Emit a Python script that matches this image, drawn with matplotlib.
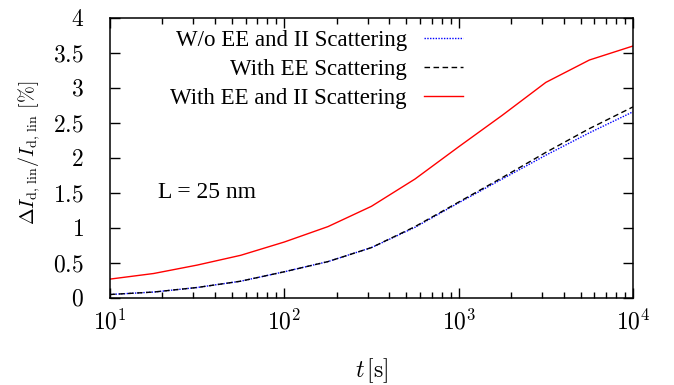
import numpy as np
import matplotlib
matplotlib.use("Agg")
import matplotlib.pyplot as plt
from matplotlib.ticker import FixedLocator, FuncFormatter, LogLocator, NullLocator

plt.rcParams["mathtext.fontset"] = "cm"
plt.rcParams["font.family"] = "Liberation Serif"

# time points (quarter decades) and curves
t = [10, 17.8, 31.6, 56.2, 100, 178, 316, 562, 1000, 1778, 3162, 5623, 10000]
wo_ee_ii = [0.05, 0.085, 0.15, 0.24, 0.375, 0.52, 0.72, 1.01, 1.36, 1.70, 2.04, 2.36, 2.66]
with_ee = [0.05, 0.085, 0.15, 0.24, 0.375, 0.52, 0.72, 1.02, 1.37, 1.72, 2.08, 2.42, 2.73]
with_ee_ii = [0.27, 0.35, 0.47, 0.61, 0.80, 1.02, 1.31, 1.70, 2.16, 2.61, 3.08, 3.40, 3.60]

labels = ["W/o EE and II Scattering", "With EE Scattering", "With EE and II Scattering"]
yticks = [0, 0.5, 1, 1.5, 2, 2.5, 3, 3.5, 4]

fig = plt.figure(figsize=(6.74, 3.85), dpi=100)
ax = fig.add_axes([110 / 674, 1 - 298 / 385, 523 / 674, 280 / 385])

ax.plot(t, wo_ee_ii, color="blue", ls=(0, (1, 1)), lw=1.0, label=labels[0])
ax.plot(t, with_ee, color="black", ls=(0, (4, 2.5)), lw=1.0, label=labels[1])
ax.plot(t, with_ee_ii, color="red", ls="-", lw=1.0, label=labels[2])

ax.set_xscale("log")
ax.set_xlim(10, 1e4)
ax.set_ylim(0, 4)
ax.yaxis.set_major_locator(FixedLocator(yticks))
ax.yaxis.set_minor_locator(NullLocator())
ax.yaxis.set_major_formatter(FuncFormatter(lambda v, p: f"${v:g}$"))
ax.xaxis.set_major_locator(LogLocator(base=10, numticks=10))
ax.xaxis.set_major_formatter(FuncFormatter(lambda v, p: f"$10^{{{int(round(np.log10(v)))}}}$"))

ax.tick_params(which="both", direction="in", top=True, right=True, labelsize=17, width=1)
ax.tick_params(which="major", length=7)
ax.tick_params(which="minor", length=4)
ax.tick_params(axis="x", pad=8)
ax.tick_params(axis="y", pad=19)
for s in ax.spines.values():
    s.set_linewidth(1.1)

ax.set_xlabel(r"$t\,[\mathrm{s}]$", fontsize=17)
ax.xaxis.set_label_coords(0.5, -0.208)
ax.set_ylabel(r"$\Delta I_{\mathrm{d,\,lin}}/I_{\mathrm{d,\,lin}}\ [\%]$", fontsize=14.5)
ax.yaxis.set_label_coords(-0.13, 0.52)

ax.text(0.092, 0.375, "L = 25 nm", transform=ax.transAxes, fontsize=17, va="center", ha="left")

leg = ax.legend(loc="upper right", bbox_to_anchor=(0.675, 0.958), frameon=False,
                markerfirst=False, fontsize=16.5, handlelength=1.7, handletextpad=0.75,
                labelspacing=0.36, borderpad=0, borderaxespad=0)

fig.savefig("out.png", dpi=100)
